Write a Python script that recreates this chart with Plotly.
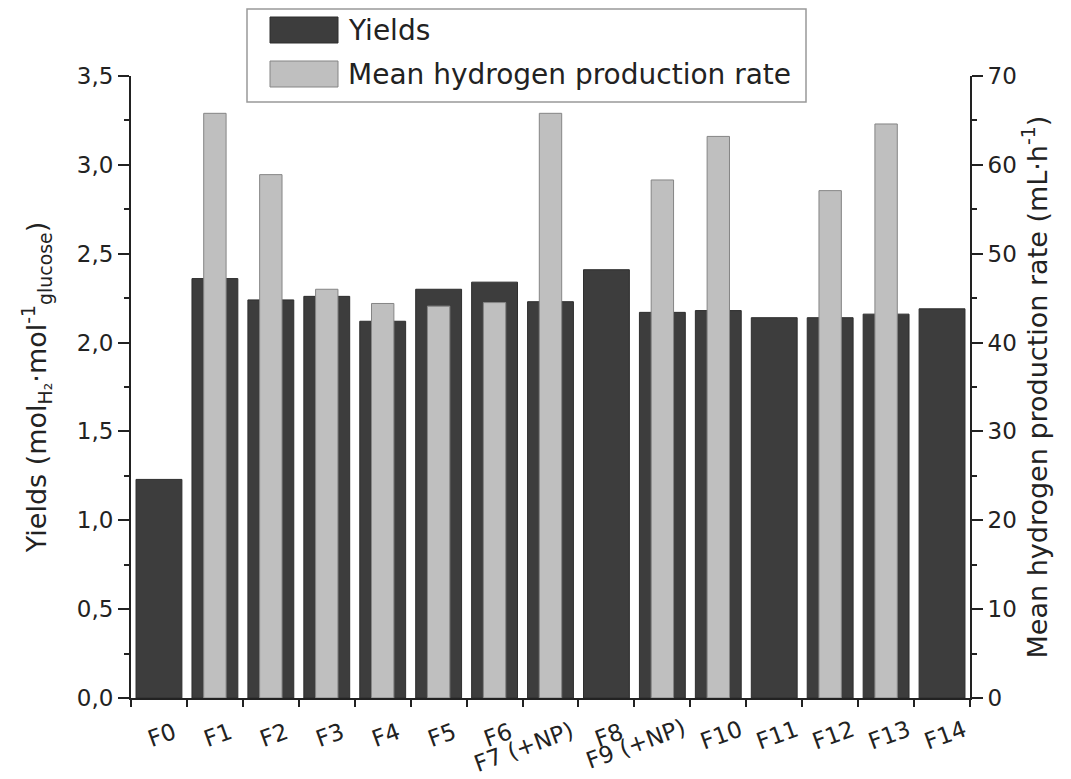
import plotly.graph_objects as go

categories = ["F0", "F1", "F2", "F3", "F4", "F5", "F6", "F7 (+NP)", "F8",
              "F9 (+NP)", "F10", "F11", "F12", "F13", "F14"]
yields = [1.23, 2.36, 2.24, 2.26, 2.12, 2.30, 2.34, 2.23, 2.41, 2.17, 2.18,
          2.14, 2.14, 2.16, 2.19]
rate = [None, 65.8, 58.9, 46.0, 44.4, 44.1, 44.5, 65.8, None, 58.3, 63.2,
        None, 57.1, 64.6, None]
series_names = ["Yields", "Mean hydrogen production rate"]

FONT = "DejaVu Sans"
DARK = "#3d3d3d"
LIGHT = "#bfbfbf"

# page geometry (the html body adds an 8px margin)
OFF = 8
PAGE_W, PAGE_H = 1071, 779
W, H = PAGE_W - OFF, PAGE_H - OFF
PL, PR, PT, PB = 131, 970, 76, 698          # plot area in page pixels
ML, MT = PL - OFF, PT - OFF
MR, MB = (OFF + W) - PR, (OFF + H) - PB
PW, PH = PR - PL, PB - PT


def px_to_paper(x, y):
    return (x - PL) / PW, (PB - y) / PH


fig = go.Figure()
fig.add_trace(go.Bar(x=categories, y=yields, name=series_names[0],
                     marker=dict(color=DARK, line=dict(color="#2e2e2e", width=1)),
                     width=0.82, yaxis="y", showlegend=False))
fig.add_trace(go.Bar(x=categories, y=rate, name=series_names[1],
                     marker=dict(color=LIGHT, line=dict(color="#858585", width=1)),
                     width=0.40, yaxis="y2", showlegend=False))

# x tick labels as rotated annotations (staggered like the original)
label_style = {
    "F7 (+NP)": dict(dx=-27, cy=747),
    "F9 (+NP)": dict(dx=-27, cy=744),
}
annotations = []
for c in categories:
    st = label_style.get(c, dict(dx=3, cy=735))
    annotations.append(dict(x=c, y=0, xref="x", yref="paper", text=c,
                            showarrow=False, textangle=-20,
                            xanchor="center", yanchor="middle",
                            xshift=st["dx"], yshift=-(st["cy"] - PB),
                            font=dict(family=FONT, size=23, color="#222")))

# manual legend
shapes = []
bx0, by0 = px_to_paper(247, 102)
bx1, by1 = px_to_paper(806, 9)
shapes.append(dict(type="rect", xref="paper", yref="paper", x0=bx0, y0=by0,
                   x1=bx1, y1=by1, line=dict(color="#999999", width=1.5),
                   fillcolor="white", layer="above"))
legend_rows = [(series_names[0], DARK, "#2e2e2e", 17, 43),
               (series_names[1], LIGHT, "#858585", 61, 87)]
for name, fill, edge, top, bot in legend_rows:
    sx0, sy0 = px_to_paper(270, bot)
    sx1, sy1 = px_to_paper(338, top)
    shapes.append(dict(type="rect", xref="paper", yref="paper", x0=sx0, y0=sy0,
                       x1=sx1, y1=sy1, fillcolor=fill,
                       line=dict(color=edge, width=1), layer="above"))
    tx, ty = px_to_paper(346, (top + bot) / 2)
    annotations.append(dict(x=tx, y=ty, xref="paper", yref="paper", text=name,
                            showarrow=False, xanchor="left", yanchor="middle",
                            font=dict(family=FONT, size=28, color="#222")))

axis_common = dict(showgrid=False, zeroline=False, showline=True,
                   linecolor="#222", linewidth=2, ticks="outside",
                   tickcolor="#222", tickwidth=2)

fig.update_layout(
    width=W, height=H,
    margin=dict(l=ML, r=MR, t=MT, b=MB, pad=0),
    paper_bgcolor="white", plot_bgcolor="white",
    barmode="overlay",
    separators=",.",
    font=dict(family=FONT, color="#222"),
    xaxis=dict(type="category", tickson="boundaries", showticklabels=False,
               ticklen=7, range=[-0.5, 14.5], **axis_common),
    yaxis=dict(range=[0, 3.5], dtick=0.5, tick0=0, tickformat=".1f",
               ticklen=11, tickfont=dict(size=23, family=FONT),
               minor=dict(dtick=0.25, ticklen=5, ticks="outside",
                          tickcolor="#222", tickwidth=1.5),
               title=dict(text="Yields (mol<sub>H₂</sub>·mol<sup>-1</sup><sub>glucose</sub>)",
                          font=dict(size=27, family=FONT), standoff=22),
               **axis_common),
    yaxis2=dict(range=[0, 70], dtick=10, tick0=0, overlaying="y", side="right",
                ticklen=11, tickfont=dict(size=23, family=FONT),
                minor=dict(dtick=5, ticklen=5, ticks="outside",
                           tickcolor="#222", tickwidth=1.5),
                title=dict(text="Mean hydrogen production rate (mL·h<sup>-1</sup>)",
                           font=dict(size=27, family=FONT), standoff=12),
                **axis_common),
    annotations=annotations,
    shapes=shapes,
)

fig.write_html("out.html")
